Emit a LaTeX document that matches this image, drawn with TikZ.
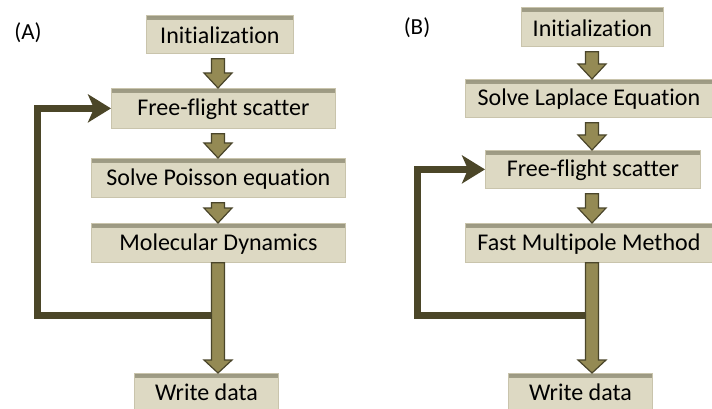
\documentclass[tikz,border=0pt]{standalone}
\usepackage{fontspec}
\setmainfont{Carlito}[Ligatures=NoCommon]
\usetikzlibrary{arrows.meta,calc}

\definecolor{boxfill}{HTML}{DDD9C3}
\definecolor{boxedge}{HTML}{C9C4AC}
\definecolor{boxtop}{HTML}{9A9780}
\definecolor{arrowfill}{HTML}{948A54}
\definecolor{arrowedge}{HTML}{4A452A}
\definecolor{loopcol}{HTML}{4B4628}

\tikzset{
  stage/.style={draw=boxedge, line width=0.8pt, fill=boxfill,
    inner sep=0pt, anchor=north west,
    path picture={\shade[top color=boxtop, bottom color=boxfill]
      (path picture bounding box.north west) rectangle
      ([yshift=-4pt]path picture bounding box.north east);}},
  stagetext/.style={font=\fontsize{24}{28}\selectfont},
  blockarrow/.style={fill=arrowfill, draw=arrowedge, line width=1.2pt, line join=miter},
  feedback/.style={draw=loopcol, line width=7pt,
    -{Stealth[length=23pt,width=28pt,inset=6pt]}},
  panel/.style={font=\fontsize{23}{28}\selectfont}
}

% box of width #3 x height #4 with top-left corner at (#1,#2)
\newcommand\stagebox[6]{%
  \node[stage, minimum width=#3pt, minimum height=#4pt] (#5) at (#1,#2) {};
  \node[stagetext] at ([yshift=-1pt]#5.center) {#6};}

% short block arrow on vertical line x=#1 from node #2 down to node #3
\newcommand\shortarrow[3]{%
  \draw[blockarrow] let \p1=(#1), \p2=(#2.south), \p3=(#3.north) in
    (\x1-6.5pt,\y2-5pt) -- (\x1+6.5pt,\y2-5pt) -- (\x1+6.5pt,\y3+15pt)
    -- (\x1+14pt,\y3+15pt) -- (\x1,\y3) -- (\x1-14pt,\y3+15pt)
    -- (\x1-6.5pt,\y3+15pt) -- cycle;}

% long block arrow that starts right at the lower edge of node #2
\newcommand\longarrow[3]{%
  \draw[blockarrow] let \p1=(#1), \p2=(#2.south), \p3=(#3.north) in
    (\x1-6.5pt,\y2) -- (\x1+6.5pt,\y2) -- (\x1+6.5pt,\y3+13pt)
    -- (\x1+14pt,\y3+13pt) -- (\x1,\y3) -- (\x1-14pt,\y3+13pt)
    -- (\x1-6.5pt,\y3+13pt) -- cycle;}

\begin{document}
\begin{tikzpicture}[x=1pt,y=-1pt]
  \useasboundingbox (0,0) rectangle (712,409);

  % ---------- panel A ----------
  \node[panel] (labA) at (28,33) {(A)};
  \stagebox{146}{15}{147}{38}{initA}{Initialization}
  \stagebox{111}{88}{224}{40}{ffA}{Free-flight scatter}
  \stagebox{91}{158}{254}{39}{poisA}{Solve Poisson equation}
  \stagebox{91}{223}{254}{39}{mdA}{Molecular Dynamics}
  \stagebox{134}{373}{144}{36}{wrA}{Write data}

  \coordinate (axA) at (218,0);
  \coordinate (jA) at (218,315);
  \coordinate (cornerA) at (37,315);

  \shortarrow{axA}{initA}{ffA}
  \shortarrow{axA}{ffA}{poisA}
  \shortarrow{axA}{poisA}{mdA}
  \draw[feedback] (jA) -- (cornerA) |- (ffA.west);
  \longarrow{axA}{mdA}{wrA}

  % ---------- panel B ----------
  \node[panel] (labB) at (417,28) {(B)};
  \stagebox{521}{7}{142}{39}{initB}{Initialization}
  \stagebox{465}{79}{247}{38}{lapB}{Solve Laplace Equation}
  \stagebox{485}{150}{215}{38}{ffB}{Free-flight scatter}
  \stagebox{465}{223}{247}{39}{fmmB}{Fast Multipole Method}
  \stagebox{508}{373}{144}{36}{wrB}{Write data}

  \coordinate (axB) at (592,0);
  \coordinate (jB) at (592,315);
  \coordinate (cornerB) at (417,315);

  \shortarrow{axB}{initB}{lapB}
  \shortarrow{axB}{lapB}{ffB}
  \shortarrow{axB}{ffB}{fmmB}
  \draw[feedback] (jB) -- (cornerB) |- (ffB.west);
  \longarrow{axB}{fmmB}{wrB}
\end{tikzpicture}
\end{document}
